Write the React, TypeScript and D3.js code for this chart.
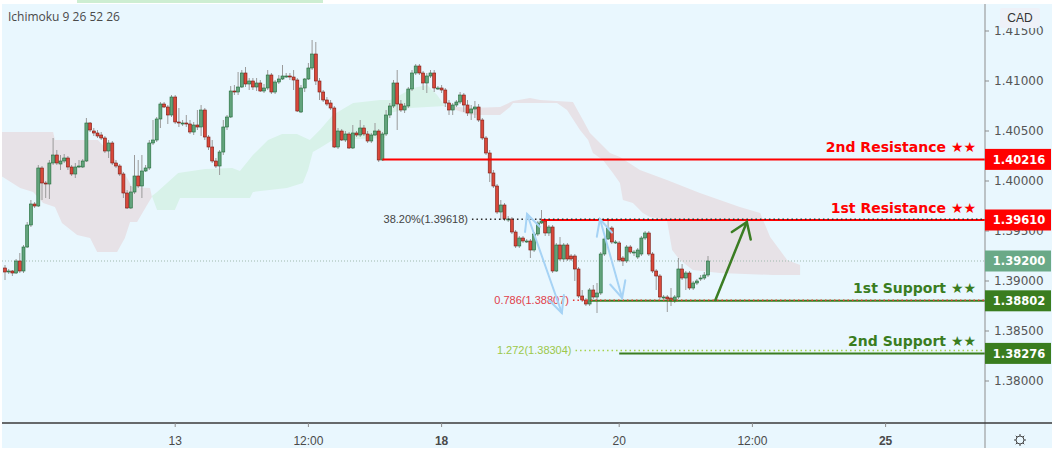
import React from "react";
import * as d3 from "d3";

// ---------- data ----------
// hourly candles: [open, high, low, close]
const candles: [number, number, number, number][] = [
  [1.3913, 1.3916, 1.3901, 1.3909], [1.3909, 1.3912, 1.3907, 1.3910], [1.3910, 1.3911, 1.3905, 1.3908],
  [1.3908, 1.3922, 1.3907, 1.3920], [1.3920, 1.3928, 1.3908, 1.3910], [1.3910, 1.3936, 1.3908, 1.3934],
  [1.3934, 1.3959, 1.3933, 1.3956], [1.3956, 1.3981, 1.3954, 1.3977], [1.3977, 1.3979, 1.3973, 1.3975],
  [1.3975, 1.4016, 1.3974, 1.4013], [1.4013, 1.4015, 1.3981, 1.3998], [1.3998, 1.4000, 1.3983, 1.3997],
  [1.3997, 1.4021, 1.3982, 1.4018], [1.4018, 1.4043, 1.4016, 1.4026], [1.4026, 1.4031, 1.4016, 1.4018],
  [1.4017, 1.4026, 1.4011, 1.4020], [1.4020, 1.4027, 1.4018, 1.4023], [1.4023, 1.4025, 1.4011, 1.4014],
  [1.4014, 1.4016, 1.4005, 1.4007], [1.4007, 1.4018, 1.4003, 1.4014], [1.4014, 1.4021, 1.4013, 1.4015],
  [1.4014, 1.4022, 1.4013, 1.4020], [1.4020, 1.4063, 1.4019, 1.4058], [1.4058, 1.4059, 1.4049, 1.4051],
  [1.4050, 1.4053, 1.4045, 1.4048], [1.4048, 1.4051, 1.4043, 1.4045], [1.4046, 1.4049, 1.4041, 1.4043],
  [1.4043, 1.4045, 1.4028, 1.4030], [1.4030, 1.4041, 1.4023, 1.4038], [1.4038, 1.4040, 1.4016, 1.4018],
  [1.4018, 1.4021, 1.4013, 1.4015], [1.4015, 1.4017, 1.4005, 1.4007], [1.4007, 1.4009, 1.3983, 1.3988],
  [1.3988, 1.3991, 1.3972, 1.3973], [1.3973, 1.3995, 1.3972, 1.3989], [1.3989, 1.4026, 1.3987, 1.4005],
  [1.4005, 1.4021, 1.3993, 1.3995], [1.3995, 1.4026, 1.3983, 1.4010], [1.4010, 1.4016, 1.4009, 1.4013],
  [1.4013, 1.4041, 1.4011, 1.4038], [1.4038, 1.4061, 1.4036, 1.4041], [1.4041, 1.4064, 1.4039, 1.4062],
  [1.4062, 1.4079, 1.4053, 1.4077], [1.4077, 1.4079, 1.4073, 1.4074], [1.4074, 1.4076, 1.4057, 1.4066],
  [1.4066, 1.4086, 1.4064, 1.4084], [1.4084, 1.4086, 1.4057, 1.4059], [1.4059, 1.4073, 1.4054, 1.4058],
  [1.4058, 1.4061, 1.4055, 1.4058], [1.4058, 1.4066, 1.4054, 1.4057], [1.4057, 1.4061, 1.4047, 1.4049],
  [1.4049, 1.4059, 1.4046, 1.4056], [1.4056, 1.4071, 1.4051, 1.4054], [1.4054, 1.4076, 1.4045, 1.4071],
  [1.4071, 1.4073, 1.4041, 1.4044], [1.4044, 1.4046, 1.4031, 1.4034], [1.4034, 1.4041, 1.4018, 1.4020],
  [1.4020, 1.4023, 1.4013, 1.4015], [1.4015, 1.4031, 1.4006, 1.4029], [1.4029, 1.4061, 1.4026, 1.4054],
  [1.4054, 1.4066, 1.4051, 1.4064], [1.4064, 1.4095, 1.4063, 1.4090], [1.4090, 1.4096, 1.4086, 1.4089],
  [1.4089, 1.4109, 1.4086, 1.4094], [1.4094, 1.4111, 1.4093, 1.4108], [1.4108, 1.4114, 1.4094, 1.4097],
  [1.4097, 1.4103, 1.4091, 1.4100], [1.4100, 1.4103, 1.4091, 1.4094], [1.4094, 1.4103, 1.4090, 1.4098],
  [1.4098, 1.4101, 1.4089, 1.4090], [1.4090, 1.4097, 1.4088, 1.4093], [1.4093, 1.4111, 1.4091, 1.4106],
  [1.4106, 1.4108, 1.4087, 1.4089], [1.4089, 1.4101, 1.4087, 1.4099], [1.4099, 1.4106, 1.4097, 1.4102],
  [1.4102, 1.4116, 1.4101, 1.4105], [1.4105, 1.4108, 1.4103, 1.4105], [1.4105, 1.4108, 1.4101, 1.4104],
  [1.4104, 1.4111, 1.4091, 1.4101], [1.4101, 1.4103, 1.4069, 1.4070], [1.4069, 1.4096, 1.4068, 1.4093],
  [1.4093, 1.4103, 1.4089, 1.4102], [1.4102, 1.4118, 1.4101, 1.4113], [1.4113, 1.4141, 1.4111, 1.4127],
  [1.4127, 1.4139, 1.4096, 1.4100], [1.4100, 1.4103, 1.4081, 1.4089], [1.4089, 1.4091, 1.4079, 1.4081],
  [1.4081, 1.4084, 1.4075, 1.4077], [1.4078, 1.4081, 1.4071, 1.4073], [1.4073, 1.4075, 1.4033, 1.4034],
  [1.4034, 1.4053, 1.4032, 1.4050], [1.4050, 1.4052, 1.4040, 1.4041], [1.4041, 1.4050, 1.4039, 1.4047],
  [1.4047, 1.4049, 1.4032, 1.4033], [1.4033, 1.4056, 1.4032, 1.4048], [1.4048, 1.4050, 1.4044, 1.4046],
  [1.4046, 1.4061, 1.4044, 1.4053], [1.4053, 1.4056, 1.4045, 1.4047], [1.4047, 1.4050, 1.4038, 1.4040],
  [1.4040, 1.4048, 1.4038, 1.4046], [1.4046, 1.4058, 1.4045, 1.4050], [1.4050, 1.4052, 1.4019, 1.4021],
  [1.4021, 1.4049, 1.4020, 1.4047], [1.4047, 1.4071, 1.4045, 1.4066], [1.4066, 1.4078, 1.4063, 1.4075],
  [1.4075, 1.4101, 1.4073, 1.4098], [1.4098, 1.4111, 1.4051, 1.4077], [1.4077, 1.4081, 1.4069, 1.4071],
  [1.4071, 1.4078, 1.4068, 1.4075], [1.4075, 1.4094, 1.4073, 1.4092], [1.4092, 1.4111, 1.4090, 1.4108],
  [1.4108, 1.4117, 1.4106, 1.4115], [1.4115, 1.4117, 1.4106, 1.4108], [1.4108, 1.4110, 1.4091, 1.4098],
  [1.4098, 1.4108, 1.4088, 1.4105], [1.4105, 1.4111, 1.4103, 1.4108], [1.4108, 1.4111, 1.4089, 1.4093],
  [1.4093, 1.4095, 1.4091, 1.4093], [1.4093, 1.4096, 1.4088, 1.4091], [1.4091, 1.4093, 1.4074, 1.4078],
  [1.4078, 1.4081, 1.4066, 1.4071], [1.4071, 1.4078, 1.4066, 1.4076], [1.4076, 1.4081, 1.4074, 1.4079],
  [1.4079, 1.4089, 1.4077, 1.4086], [1.4086, 1.4088, 1.4069, 1.4076], [1.4076, 1.4081, 1.4065, 1.4068],
  [1.4068, 1.4076, 1.4061, 1.4072], [1.4072, 1.4080, 1.4063, 1.4074], [1.4074, 1.4077, 1.4059, 1.4061],
  [1.4061, 1.4063, 1.4041, 1.4043], [1.4043, 1.4045, 1.4026, 1.4028], [1.4028, 1.4031, 1.3999, 1.4008],
  [1.4008, 1.4011, 1.3993, 1.3995], [1.3995, 1.3997, 1.3967, 1.3969], [1.3969, 1.3981, 1.3961, 1.3976],
  [1.3976, 1.3978, 1.3960, 1.3962], [1.3962, 1.3965, 1.3959, 1.3962], [1.3962, 1.3964, 1.3947, 1.3949],
  [1.3949, 1.3951, 1.3933, 1.3935], [1.3935, 1.3945, 1.3933, 1.3943], [1.3943, 1.3945, 1.3938, 1.3940],
  [1.3940, 1.3942, 1.3938, 1.3940], [1.3940, 1.3942, 1.3923, 1.3931], [1.3931, 1.3949, 1.3929, 1.3947],
  [1.3947, 1.3960, 1.3945, 1.3958], [1.3958, 1.3971, 1.3957, 1.3960], [1.3960, 1.3962, 1.3945, 1.3948],
  [1.3948, 1.3956, 1.3945, 1.3954], [1.3954, 1.3956, 1.3908, 1.3910], [1.3910, 1.3938, 1.3909, 1.3936],
  [1.3936, 1.3944, 1.3920, 1.3922], [1.3922, 1.3938, 1.3919, 1.3936], [1.3936, 1.3938, 1.3920, 1.3922],
  [1.3925, 1.3927, 1.3920, 1.3922], [1.3925, 1.3927, 1.3900, 1.3912], [1.3912, 1.3914, 1.3883, 1.3885],
  [1.3885, 1.3891, 1.3879, 1.3881], [1.3881, 1.3883, 1.3875, 1.3877], [1.3877, 1.3893, 1.3875, 1.3891],
  [1.3891, 1.3896, 1.3882, 1.3884], [1.3884, 1.3898, 1.3868, 1.3888], [1.3888, 1.3929, 1.3886, 1.3927],
  [1.3927, 1.3944, 1.3925, 1.3942], [1.3942, 1.3963, 1.3941, 1.3953], [1.3953, 1.3955, 1.3937, 1.3939],
  [1.3939, 1.3941, 1.3937, 1.3939], [1.3938, 1.3940, 1.3919, 1.3921], [1.3923, 1.3925, 1.3915, 1.3920],
  [1.3920, 1.3936, 1.3918, 1.3934], [1.3934, 1.3936, 1.3927, 1.3929], [1.3929, 1.3931, 1.3925, 1.3929],
  [1.3924, 1.3933, 1.3922, 1.3931], [1.3927, 1.3945, 1.3925, 1.3943], [1.3943, 1.3950, 1.3941, 1.3948],
  [1.3948, 1.3950, 1.3925, 1.3927], [1.3927, 1.3929, 1.3908, 1.3910], [1.3910, 1.3912, 1.3891, 1.3905],
  [1.3905, 1.3907, 1.3882, 1.3884], [1.3884, 1.3886, 1.3882, 1.3884], [1.3884, 1.3886, 1.3869, 1.3882],
  [1.3883, 1.3893, 1.3875, 1.3880], [1.3880, 1.3886, 1.3878, 1.3884], [1.3884, 1.3923, 1.3882, 1.3912],
  [1.3912, 1.3917, 1.3901, 1.3903], [1.3903, 1.3910, 1.3891, 1.3908], [1.3908, 1.3910, 1.3891, 1.3893],
  [1.3893, 1.3900, 1.3891, 1.3898], [1.3898, 1.3902, 1.3896, 1.3900], [1.3902, 1.3906, 1.3900, 1.3903],
  [1.3903, 1.3909, 1.3901, 1.3906], [1.3906, 1.3925, 1.3904, 1.3920],
];

// Ichimoku cloud outlines: [bar index, price]
const cloudBearish1: [number, number][] = [
  [-1, 1.4049], [13, 1.4049], [13.5, 1.4041], [25.1, 1.4041], [28.4, 1.4028], [31.1, 1.4014], [33, 1.4003],
  [34.3, 1.3994], [39.2, 1.3993], [39.7, 1.3984], [38.4, 1.3976], [35.7, 1.3959], [33.8, 1.3959],
  [32.4, 1.3943], [30.3, 1.3929], [24.9, 1.3929], [23, 1.3943], [19.5, 1.3946], [15.4, 1.3958],
  [13.5, 1.3974], [10.3, 1.3978], [7.6, 1.3989], [4.1, 1.3993], [-1, 1.4005],
];
const cloudBullish: [number, number][] = [
  [39.7, 1.3985], [41.1, 1.3989], [46.8, 1.4008], [54.1, 1.4012], [61.4, 1.4013], [63.5, 1.4010],
  [67, 1.4026], [71.1, 1.4041], [74.9, 1.4047], [78.9, 1.4047], [82.4, 1.4041], [85.1, 1.4051],
  [88.6, 1.4066], [94.1, 1.4078], [101.4, 1.4081], [104.1, 1.4081], [106.8, 1.4086], [110.3, 1.4093],
  [114.1, 1.4096], [116.8, 1.4086], [118.9, 1.4075], [109.5, 1.4073], [104.1, 1.4068], [102.7, 1.4043],
  [88.6, 1.4041], [85.1, 1.4033], [83.2, 1.4029], [81.9, 1.4011], [80.5, 1.3998], [76.2, 1.3993],
  [67, 1.3989], [66.2, 1.3983], [47.3, 1.3983], [45.9, 1.3971], [41.1, 1.3971],
];
const cloudBearish2: [number, number][] = [
  [118.9, 1.4075], [125.7, 1.4073], [133.8, 1.4074], [137.3, 1.4080], [141.9, 1.4083], [144.6, 1.4081],
  [153.5, 1.4079], [156.2, 1.4061], [158.1, 1.4048], [160.8, 1.4038], [163.5, 1.4028], [166.2, 1.4024],
  [171.6, 1.4011], [178.9, 1.4001], [187.8, 1.3988], [198.6, 1.3974], [204.1, 1.3968], [206.8, 1.3944],
  [211.4, 1.3921], [214.9, 1.3916], [214.9, 1.3906], [207.6, 1.3906], [193.2, 1.3908], [185.9, 1.3911],
  [182.4, 1.3921], [180.3, 1.3931], [178.9, 1.3961], [174.3, 1.3964], [172.4, 1.3968], [169.7, 1.3978],
  [167, 1.3981], [166.2, 1.3998], [164.3, 1.4008], [161.6, 1.4021], [158.9, 1.4028], [157.6, 1.4041],
  [155.4, 1.4051], [151.9, 1.4071], [149.2, 1.4078], [137.3, 1.4078], [136.5, 1.4074], [133.8, 1.4066],
  [125.7, 1.4066],
];

const priceTicks = [1.415, 1.41, 1.405, 1.4, 1.395, 1.39, 1.385, 1.38];
const timeTicks = [
  { i: 46, label: "13", bold: false },
  { i: 82, label: "12:00", bold: false },
  { i: 118, label: "18", bold: true },
  { i: 166, label: "20", bold: false },
  { i: 202, label: "12:00", bold: false },
  { i: 238, label: "25", bold: true },
];
const lastPrice = 1.392;

const levels = [
  { name: "2nd Resistance ★★", price: 1.40216, start: 102, kind: "res" },
  { name: "1st Resistance ★★", price: 1.3961, start: 145, kind: "res" },
  { name: "1st Support ★★", price: 1.38802, start: 158, kind: "sup" },
  { name: "2nd Support ★★", price: 1.38276, start: 166, kind: "sup" },
];
const fibs = [
  { label: "38.20%(1.39618)", price: 1.39618, start: 126.2, color: "#2b2b2b", text: "#444" },
  { label: "0.786(1.38807)", price: 1.38807, start: 153.5, color: "#e53935", text: "#e0404a" },
  { label: "1.272(1.38304)", price: 1.38304, start: 154.2, color: "#a5d24a", text: "#9cc84a" },
];
// projection arrow (bar index, price)
const greenArrow: [number, number][] = [[192, 1.3881], [200.5, 1.3959]];
const blueArrows: [number, number][][] = [
  [[141.1, 1.3967], [150.5, 1.3868]],
  [[160.8, 1.3962], [166.8, 1.3883]],
];

// ---------- layout ----------
const W = 1054;
const H = 454;
const AXIS_X = 985;
const AXIS_Y = 423;
const BG = "#e9f7fe";
const RED = "#ff0000";
const GREEN = "#3a7d1f";

const x = d3.scaleLinear().domain([0, 238]).range([5, 885.6]);
const y = d3.scaleLinear().domain([1.38, 1.415]).range([381, 31]);
const poly = d3
  .line<[number, number]>()
  .x((d) => x(d[0]))
  .y((d) => y(d[1]));

function arrowHead(x1: number, y1: number, x2: number, y2: number, len: number, ang: number) {
  const a = Math.atan2(y1 - y2, x1 - x2);
  const p1 = [x2 + len * Math.cos(a + ang), y2 + len * Math.sin(a + ang)];
  const p2 = [x2 + len * Math.cos(a - ang), y2 + len * Math.sin(a - ang)];
  return `M${p1[0]},${p1[1]}L${x2},${y2}L${p2[0]},${p2[1]}`;
}

const Gear = ({ cx, cy }: { cx: number; cy: number }) => {
  const rays = d3.range(8).map((k) => (k * Math.PI) / 4);
  return (
    <g stroke="#444" strokeWidth={1} fill="none">
      <circle cx={cx} cy={cy} r={4} />
      {rays.map((a, k) => (
        <line key={k} x1={cx + 4 * Math.cos(a)} y1={cy + 4 * Math.sin(a)} x2={cx + 6 * Math.cos(a)} y2={cy + 6 * Math.sin(a)} />
      ))}
    </g>
  );
};

export default function App() {
  const font = "'Liberation Sans', Arial, sans-serif";
  const dv = "'DejaVu Sans', Verdana, sans-serif";
  return (
    <svg width={W} height={H} style={{ position: "absolute", left: 0, top: 0, background: "#fff" }} fontFamily={font}>
      <defs>
        <clipPath id="plot">
          <rect x={2} y={4} width={AXIS_X - 2} height={AXIS_Y - 4} />
        </clipPath>
      </defs>
      <rect x={77} y={0} width={246} height={3} fill="#cdeed2" />
      <rect x={2} y={4} width={1050} height={444} fill={BG} />

      <g clipPath="url(#plot)">
        <path d={poly(cloudBearish1) + "Z"} fill="#e7e2e7" />
        <path d={poly(cloudBullish) + "Z"} fill="#d8f2e9" />
        <path d={poly(cloudBearish2) + "Z"} fill="#e7e2e7" />

        <line x1={2} x2={AXIS_X} y1={y(lastPrice)} y2={y(lastPrice)} stroke="#9fb9ad" strokeDasharray="1,2" />

        {candles.map((c, i) => {
          const [o, h, l, cl] = c;
          const cx = x(i);
          const up = cl >= o;
          const top = y(Math.max(o, cl));
          const bot = y(Math.min(o, cl));
          return (
            <g key={i}>
              <line x1={cx} x2={cx} y1={y(h)} y2={y(l)} stroke="#9a9a9a" strokeWidth={1} />
              <rect
                x={cx - 1.5}
                y={top}
                width={3}
                height={Math.max(1, bot - top)}
                fill={up ? "#62a37c" : "#d9483a"}
                stroke={up ? "#1f6a36" : "#7a1a12"}
                strokeWidth={0.6}
              />
            </g>
          );
        })}

        {levels.map((lv) => (
          <line key={lv.name} x1={x(lv.start)} x2={AXIS_X} y1={y(lv.price)} y2={y(lv.price)}
            stroke={lv.kind === "res" ? RED : GREEN} strokeWidth={2} />
        ))}
        {fibs.map((f) => (
          <g key={f.label}>
            <line x1={x(f.start)} x2={AXIS_X} y1={y(f.price)} y2={y(f.price)} stroke={f.color}
              strokeWidth={1.5} strokeDasharray="1.5,3" />
            <text x={x(f.start) - 4} y={y(f.price)} dy="0.35em" textAnchor="end" fontSize={11} fill={f.text}>
              {f.label}
            </text>
          </g>
        ))}

        {blueArrows.map((a, k) => {
          const x1 = x(a[0][0]), y1 = y(a[0][1]), x2 = x(a[1][0]), y2 = y(a[1][1]);
          return (
            <g key={k} stroke="#a6d3f5" strokeWidth={2} fill="none" strokeLinecap="round">
              <line x1={x1} y1={y1} x2={x2} y2={y2} />
              <path d={arrowHead(x1, y1, x2, y2, 18, 0.45)} />
              <path d={arrowHead(x2, y2, x1, y1, 18, 0.45)} />
            </g>
          );
        })}
        {(() => {
          const x1 = x(greenArrow[0][0]), y1 = y(greenArrow[0][1]);
          const x2 = x(greenArrow[1][0]), y2 = y(greenArrow[1][1]);
          return (
            <g stroke="#3b7d23" strokeWidth={2.5} fill="none" strokeLinecap="round">
              <line x1={x1} y1={y1} x2={x2} y2={y2} />
              <path d={arrowHead(x1, y1, x2, y2, 18, 0.6)} />
            </g>
          );
        })()}

        {levels.map((lv) => (
          <text key={lv.name} x={976} y={y(lv.price) - 12.5} dy="0.36em" textAnchor="end" fontSize={14}
            fontWeight="bold" fontFamily={dv} fill={lv.kind === "res" ? RED : GREEN}>
            {lv.name}
          </text>
        ))}
      </g>

      <text x={8} y={17} dy="0.35em" fontSize={12} fill="#4a4a4a" fontFamily="'Open Sans', sans-serif">
        Ichimoku 9 26 52 26
      </text>

      {/* axes */}
      <line x1={AXIS_X} x2={AXIS_X} y1={4} y2={448} stroke="#8d8d8d" />
      <line x1={2} x2={1052} y1={AXIS_Y} y2={AXIS_Y} stroke="#3a3a3a" strokeWidth={1.5} />
      {priceTicks.map((p) => (
        <g key={p}>
          <line x1={AXIS_X} x2={AXIS_X + 4} y1={y(p)} y2={y(p)} stroke="#8d8d8d" />
          <text x={994} y={y(p)} dy="0.36em" fontSize={12} fill="#555" fontFamily={dv}>
            {p.toFixed(5)}
          </text>
        </g>
      ))}
      {timeTicks.map((t) => (
        <g key={t.i + t.label}>
          <line x1={x(t.i)} x2={x(t.i)} y1={AXIS_Y} y2={AXIS_Y + 4} stroke="#8d8d8d" />
          <text x={x(t.i)} y={441} dy="0.35em" textAnchor="middle" fontSize={12}
            fontWeight={t.bold ? "bold" : "normal"} fill="#4a4a4a">
            {t.label}
          </text>
        </g>
      ))}

      {/* price tags */}
      {[
        ...levels.map((lv) => ({ p: lv.price, c: lv.kind === "res" ? RED : GREEN })),
        { p: lastPrice, c: "#6aa987" },
      ].map((t) => (
        <g key={t.p}>
          <rect x={AXIS_X} y={y(t.p) - 10.5} width={66} height={21} fill={t.c} />
          <text x={1019} y={y(t.p)} dy="0.36em" textAnchor="middle" fontSize={11.5} fontWeight="bold"
            fill="#fff" fontFamily={dv}>
            {t.p.toFixed(5)}
          </text>
        </g>
      ))}

      <rect x={1000} y={8} width={40} height={20} rx={2} fill="#eef1f8" />
      <text x={1020} y={18} dy="0.35em" textAnchor="middle" fontSize={12} fill="#333">
        CAD
      </text>
      <Gear cx={1020} cy={440} />
    </svg>
  );
}
